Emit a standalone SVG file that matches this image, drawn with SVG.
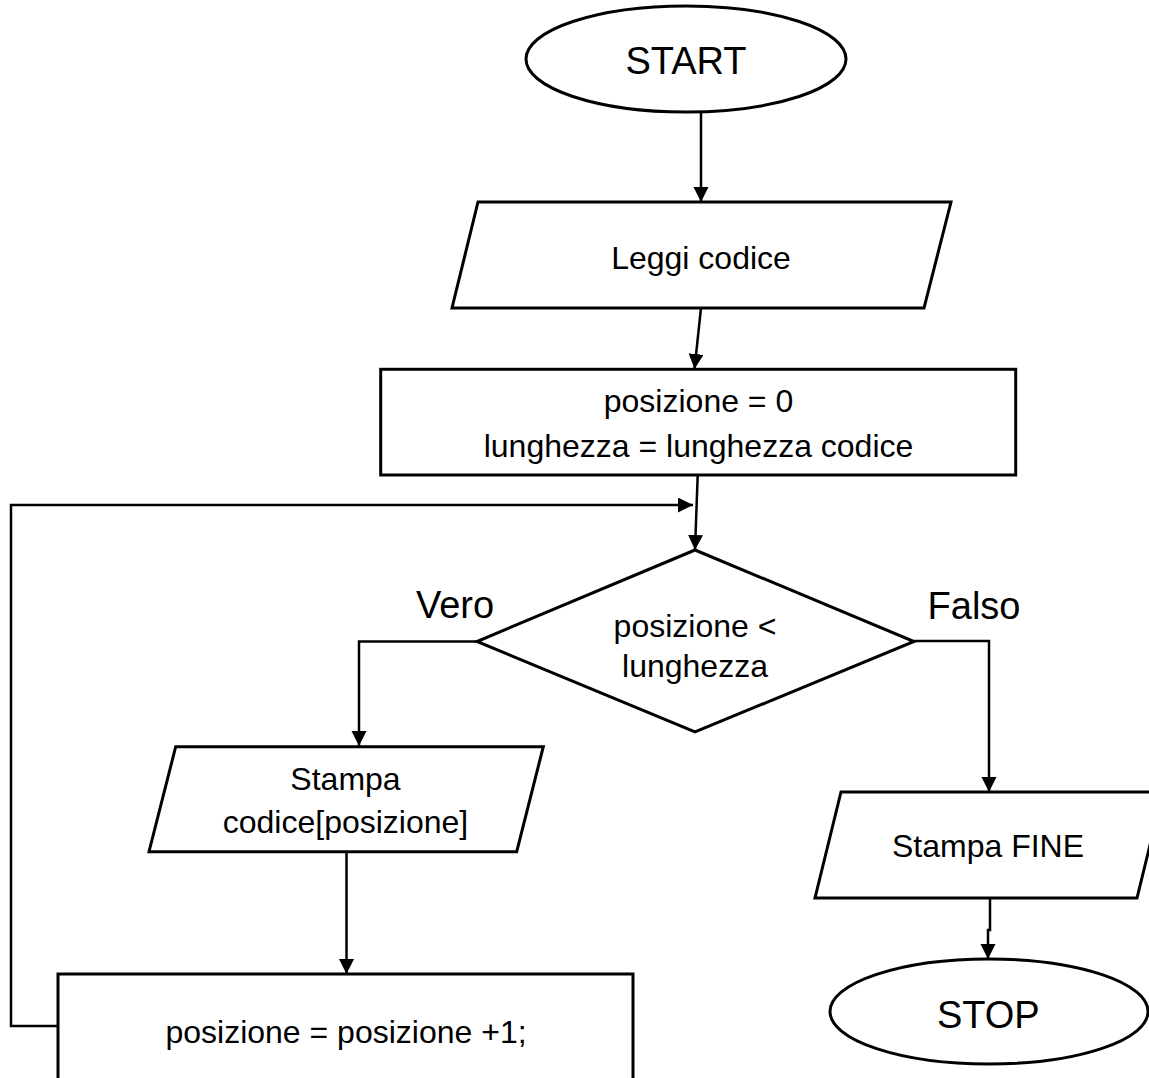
<svg xmlns="http://www.w3.org/2000/svg" width="1149" height="1078" viewBox="0 0 1149 1078">
<style>
.shape{fill:#fff;stroke:#000;stroke-width:3}
.conn{fill:none;stroke:#000;stroke-width:2.5}
.t{font-family:"Liberation Sans",Arial,sans-serif;font-size:32px;fill:#000;text-anchor:middle}
.big{font-size:38px}
</style>
<defs>
<marker id="ah" markerUnits="userSpaceOnUse" markerWidth="16" markerHeight="16" refX="15" refY="7.5" orient="auto">
<path d="M0,0 L15,7.5 L0,15 z" fill="#000"/>
</marker>
</defs>
<rect width="1149" height="1078" fill="#fff"/>
<g id="connectors">
<path class="conn" d="M701,112 V202" marker-end="url(#ah)"/>
<path class="conn" d="M701,308 L694.5,369" marker-end="url(#ah)"/>
<path class="conn" d="M697.7,475 L695,550" marker-end="url(#ah)"/>
<path class="conn" d="M58,1026 H11 V505 H693" marker-end="url(#ah)"/>
<path class="conn" d="M477,641.5 H359 V746" marker-end="url(#ah)"/>
<path class="conn" d="M914,641 H989 V792" marker-end="url(#ah)"/>
<path class="conn" d="M346.5,852 V974" marker-end="url(#ah)"/>
<path class="conn" d="M990,898 V930 H988 V959" marker-end="url(#ah)"/>
</g>
<g id="start">
<ellipse class="shape" cx="686" cy="59" rx="160" ry="53"/>
<text class="t big" x="686" y="74">START</text>
</g>
<g id="leggi">
<polygon class="shape" points="478,202 951,202 924,308 452,308"/>
<text class="t" x="701" y="269">Leggi codice</text>
</g>
<g id="init">
<rect class="shape" x="380.7" y="369.3" width="635" height="105.7"/>
<text class="t" x="698.5" y="411.7">posizione = 0</text>
<text class="t" x="698.5" y="456.7">lunghezza = lunghezza codice</text>
</g>
<g id="decision">
<polygon class="shape" points="695,550 914,641.5 695,732 477,641.5"/>
<text class="t" x="695" y="636.7">posizione &lt;</text>
<text class="t" x="695" y="676.7">lunghezza</text>
</g>
<g id="label-vero">
<text class="t big" x="455" y="618">Vero</text>
</g>
<g id="label-falso">
<text class="t big" x="974" y="619">Falso</text>
</g>
<g id="stampa-codice">
<polygon class="shape" points="175.7,746.7 543.3,746.7 516.7,851.7 149,851.7"/>
<text class="t" x="345.5" y="790">Stampa</text>
<text class="t" x="345.5" y="833.3">codice[posizione]</text>
</g>
<g id="incremento">
<rect class="shape" x="58" y="974" width="575" height="130"/>
<text class="t" x="346" y="1043">posizione = posizione +1;</text>
</g>
<g id="stampa-fine">
<polygon class="shape" points="841,792 1163,792 1137,898 815,898"/>
<text class="t" x="988" y="857">Stampa FINE</text>
</g>
<g id="stop">
<ellipse class="shape" cx="989" cy="1011.5" rx="159" ry="52.5"/>
<text class="t big" x="988.3" y="1027.7">STOP</text>
</g>
</svg>
